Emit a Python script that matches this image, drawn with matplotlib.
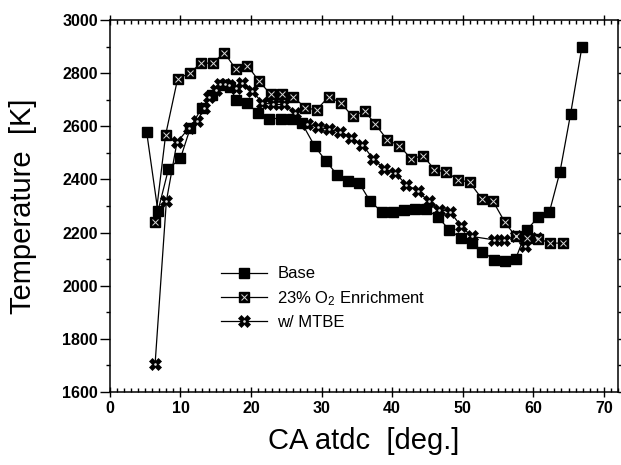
import numpy as np
import matplotlib
matplotlib.use('Agg')
import matplotlib.pyplot as plt
from matplotlib.ticker import MultipleLocator
from matplotlib.legend_handler import HandlerTuple

plt.rcParams['font.family'] = ['Liberation Sans', 'DejaVu Sans']
plt.rcParams['mathtext.fontset'] = 'custom'
plt.rcParams['mathtext.rm'] = 'Liberation Sans'
plt.rcParams['mathtext.it'] = 'Liberation Sans'

# ---- data ----
ca_base = [5.2, 6.8, 8.3, 10.0, 11.4, 13.0, 14.5, 16.0, 17.0, 17.9, 19.4, 21.0, 22.5,
           24.2, 25.8, 27.2, 29.0, 30.6, 32.2, 33.8, 35.3, 36.9, 38.6, 40.1, 41.7,
           43.3, 44.8, 46.5, 48.1, 49.7, 51.3, 52.8, 54.4, 56.0, 57.5, 59.1, 60.7,
           62.3, 63.8, 65.3, 66.9]
T_base = [2580, 2280, 2440, 2480, 2595, 2670, 2720, 2755, 2750, 2700, 2690, 2650, 2630,
          2630, 2630, 2613, 2527, 2470, 2418, 2395, 2388, 2317, 2277, 2278, 2286,
          2287, 2288, 2258, 2210, 2180, 2160, 2128, 2098, 2092, 2100, 2210, 2258,
          2278, 2430, 2648, 2900]

ca_o2 = [6.4, 7.9, 9.6, 11.3, 12.9, 14.6, 16.2, 17.8, 19.5, 21.1, 22.8, 24.4, 26.0,
         27.7, 29.3, 31.0, 32.7, 34.4, 36.1, 37.6, 39.3, 41.0, 42.7, 44.4, 46.0,
         47.6, 49.4, 51.0, 52.7, 54.3, 56.0, 57.5, 59.1, 60.7, 62.4, 64.2]
T_o2 = [2238, 2569, 2780, 2801, 2839, 2839, 2879, 2818, 2830, 2772, 2721, 2721, 2712,
        2670, 2663, 2712, 2690, 2638, 2659, 2609, 2550, 2528, 2478, 2490, 2437,
        2428, 2399, 2389, 2328, 2318, 2238, 2186, 2180, 2177, 2160, 2160]

ca_mtbe = [6.4, 8.0, 9.5, 11.2, 12.4, 13.3, 14.1, 15.0, 15.6, 16.3, 16.9, 17.8, 18.7,
           20.2, 21.6, 23.1, 24.7, 26.3, 27.9, 29.5, 31.0, 32.6, 34.2, 35.8, 37.3,
           38.9, 40.4, 42.0, 43.6, 45.2, 46.7, 48.2, 49.8, 51.3, 54.5, 55.9, 57.5,
           58.9, 60.5]
T_mtbe = [1703, 2318, 2540, 2594, 2619, 2670, 2713, 2738, 2760, 2762, 2755, 2745, 2764,
          2732, 2690, 2683, 2683, 2650, 2610, 2598, 2589, 2581, 2558, 2531, 2478,
          2440, 2426, 2380, 2358, 2317, 2286, 2279, 2223, 2185, 2172, 2172, 2185,
          2148, 2180]

fig = plt.figure(figsize=(6.21, 4.65), dpi=100)
ax = fig.add_axes([0.177, 0.158, 0.818, 0.798])

lw = 0.9
# Base: filled squares
h_base, = ax.plot(ca_base, T_base, '-', color='black', lw=lw,
                  marker='s', ms=6.5, mfc='black', mec='black', zorder=3)
# 23% O2: square with light cross inside
h_o2, = ax.plot(ca_o2, T_o2, '-', color='black', lw=lw,
                marker='s', ms=6.5, mfc='black', mec='black', zorder=3)
h_o2x, = ax.plot(ca_o2, T_o2, ls='none', marker='x', ms=4, mew=0.7,
                 color='#d8d8d8', zorder=4)
# MTBE: bow-tie star
h_mtbe, = ax.plot(ca_mtbe, T_mtbe, '-', color='black', lw=lw,
                  marker='X', ms=8, mfc='black', mec='black', mew=0.5, zorder=3)
h_mtbed, = ax.plot(ca_mtbe, T_mtbe, ls='none', marker='.', ms=1.8,
                   color='#d8d8d8', zorder=4)

ax.set_xlim(0, 72)
ax.set_ylim(1600, 3000)
ax.xaxis.set_major_locator(MultipleLocator(10))
ax.xaxis.set_minor_locator(MultipleLocator(1))
ax.yaxis.set_major_locator(MultipleLocator(200))
ax.yaxis.set_minor_locator(MultipleLocator(100))

ax.tick_params(axis='both', which='both', top=True, right=True, direction='in',
               labelsize=11.5, width=1)
ax.tick_params(axis='both', which='major', length=5)
ax.tick_params(axis='both', which='minor', length=3)
ax.tick_params(axis='y', which='major', left=True, direction='out', length=7, pad=1.5)
ax.tick_params(axis='y', which='minor', left=True, direction='out', length=3)
ax.tick_params(axis='x', which='major', bottom=True, direction='inout', length=7, pad=3)
ax.yaxis.set_tick_params(which='both', right=True)
for lab in ax.get_xticklabels() + ax.get_yticklabels():
    lab.set_fontweight('bold')
for sp in ax.spines.values():
    sp.set_linewidth(1.1)

ax.set_xlabel('CA atdc  [deg.]', fontsize=21, labelpad=8)
ax.set_ylabel('Temperature  [K]', fontsize=21, labelpad=18)

leg = ax.legend([h_base, (h_o2, h_o2x), (h_mtbe, h_mtbed)],
                ['Base', r'23% O$_2$ Enrichment', 'w/ MTBE'],
                handler_map={tuple: HandlerTuple(ndivide=1, pad=0)},
                loc='upper left', bbox_to_anchor=(0.205, 0.355), frameon=False,
                fontsize=12, handlelength=2.8, handletextpad=0.6,
                labelspacing=0.45, borderaxespad=0)

fig.savefig('out.png', dpi=100)
